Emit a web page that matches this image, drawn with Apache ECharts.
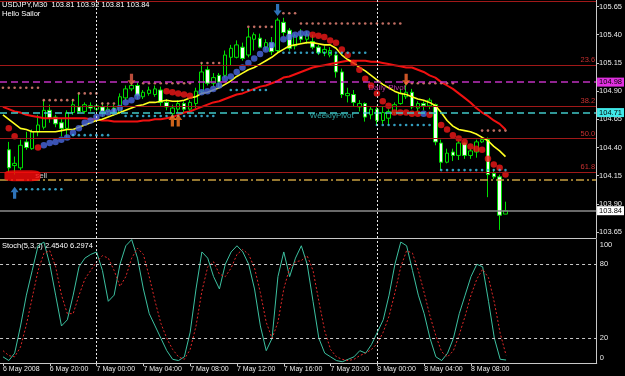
<!DOCTYPE html>
<html><head><meta charset="utf-8">
<script src="https://cdn.jsdelivr.net/npm/echarts@6/dist/echarts.min.js"></script>
<style>html,body{margin:0;padding:0;background:#000;}#c{width:625px;height:376px;}</style>
</head><body><div id="c"></div>
<script>
// ---------------- data ----------------
const symbolName = 'USDJPY,M30';
const tickIdx  = [0, 8, 16, 24, 32, 40, 48, 56, 64, 72, 80];
const tickText = ['6 May 2008','6 May 20:00','7 May 00:00','7 May 04:00','7 May 08:00','7 May 12:00','7 May 16:00','7 May 20:00','8 May 00:00','8 May 04:00','8 May 08:00'];
const priceTicks = [103.65,103.90,104.15,104.40,104.65,104.90,105.15,105.40,105.65];
const stochTicks = [0,20,80,100];
const daySeparators = [16, 64];

const open = [
null,104.38,104.24,104.22,104.45,104.39,104.54,104.58,104.73,104.67,
104.62,104.57,104.71,104.76,104.72,104.77,104.74,104.76,104.72,104.75,
104.71,104.84,104.92,104.95,104.85,104.88,104.87,104.91,104.80,104.70,
104.74,104.79,104.74,104.79,104.90,105.09,104.97,105.04,105.04,105.20,
105.20,105.29,105.22,105.36,105.37,105.29,105.33,105.26,105.51,105.44,
105.30,105.39,105.36,105.34,105.29,105.24,105.22,105.22,105.07,104.86,
104.87,104.76,104.79,104.69,104.74,104.64,104.66,104.71,104.79,104.85,
104.89,104.75,104.79,104.77,104.78,104.44,104.27,104.36,104.33,104.44,
104.33,104.36,104.45,104.47,104.17,104.14,103.81];
const close = [
null,104.22,104.26,104.42,104.40,104.54,104.60,104.73,104.66,104.61,
104.57,104.71,104.78,104.72,104.78,104.75,104.77,104.72,104.74,104.70,
104.85,104.92,104.95,104.86,104.89,104.91,104.92,104.80,104.76,104.75,
104.79,104.74,104.80,104.90,105.07,104.97,105.02,104.98,105.22,105.28,
105.31,105.19,105.38,105.40,105.29,105.33,105.25,105.53,105.42,105.28,
105.39,105.36,105.40,105.29,105.24,105.27,105.26,105.07,104.87,104.88,
104.80,104.79,104.67,104.74,104.64,104.71,104.72,104.78,104.88,104.89,
104.76,104.79,104.77,104.82,104.45,104.27,104.35,104.33,104.44,104.33,
104.37,104.45,104.47,104.16,104.14,103.80,103.84];
const high = [
null,104.45,104.32,104.47,104.54,104.56,104.69,104.82,104.78,104.69,
104.66,104.73,104.83,104.88,104.80,104.80,104.79,104.80,104.78,104.78,
104.88,104.95,104.98,104.98,104.91,104.94,104.95,104.94,104.83,104.78,
104.82,104.81,104.82,104.93,105.15,105.12,105.06,105.06,105.26,105.31,
105.35,105.33,105.46,105.42,105.41,105.36,105.38,105.55,105.55,105.46,
105.41,105.45,105.43,105.40,105.31,105.30,105.29,105.25,105.10,104.93,
104.91,104.82,104.80,104.76,104.77,104.76,104.74,104.80,104.92,104.96,
104.92,104.81,104.81,104.84,104.79,104.47,104.39,104.39,104.46,104.45,
104.39,104.47,104.50,104.49,104.21,104.16,103.92];
const low = [
null,104.18,104.16,104.20,104.38,104.38,104.50,104.56,104.62,104.58,
104.50,104.49,104.69,104.70,104.70,104.72,104.72,104.67,104.70,104.68,
104.70,104.82,104.90,104.83,104.83,104.86,104.85,104.77,104.73,104.66,
104.71,104.70,104.72,104.75,104.87,104.95,104.94,104.92,105.02,105.13,
105.19,105.17,105.20,105.26,105.28,105.26,105.22,105.24,105.39,105.26,
105.27,105.33,105.32,105.27,105.22,105.21,105.20,105.02,104.84,104.80,
104.76,104.72,104.63,104.65,104.60,104.61,104.60,104.69,104.78,104.83,
104.74,104.72,104.73,104.74,104.42,104.20,104.26,104.28,104.29,104.30,
104.30,104.31,104.44,103.96,104.12,103.67,103.81];

const maFast = [
104.69,104.65,104.61,104.57,104.56,104.54,104.54,104.54,104.54,104.54,
104.55,104.56,104.56,104.58,104.60,104.62,104.64,104.65,104.67,104.69,
104.71,104.73,104.75,104.77,104.78,104.80,104.80,104.81,104.82,104.81,
104.81,104.82,104.84,104.85,104.88,104.89,104.91,104.93,104.96,104.99,
105.03,105.06,105.09,105.11,105.14,105.17,105.20,105.24,105.27,105.30,
105.31,105.32,105.33,105.33,105.32,105.31,105.31,105.28,105.22,105.18,
105.15,105.11,105.08,105.04,105.00,104.96,104.93,104.90,104.88,104.87,
104.85,104.83,104.82,104.80,104.77,104.71,104.64,104.59,104.56,104.55,
104.54,104.52,104.49,104.46,104.41,104.37,104.32];
const maSlow = [
104.76,104.74,104.72,104.71,104.69,104.68,104.67,104.66,104.66,104.66,
104.66,104.66,104.66,104.66,104.66,104.65,104.65,104.64,104.64,104.63,
104.63,104.63,104.63,104.63,104.64,104.64,104.65,104.65,104.66,104.67,
104.69,104.71,104.72,104.74,104.76,104.78,104.80,104.81,104.83,104.85,
104.87,104.88,104.90,104.92,104.94,104.95,104.97,104.99,105.02,105.03,
105.05,105.07,105.09,105.11,105.12,105.13,105.14,105.15,105.16,105.17,
105.17,105.17,105.17,105.16,105.16,105.15,105.14,105.13,105.12,105.11,
105.11,105.09,105.07,105.04,105.02,104.98,104.95,104.92,104.88,104.84,
104.80,104.75,104.71,104.68,104.64,104.61,104.56];

const sarUpIdx = [7,8,9,10,11,12,13,14,15,16,17,18,19,20,21,22,23,34,35,36,37,38,39,40,41,42,43,44,45,46,48,49,50,51,52,72];
const sarUpVal = [104.42,104.44,104.45,104.47,104.49,104.53,104.57,104.62,104.64,104.67,104.70,104.71,104.72,104.75,104.80,104.82,104.85,104.89,104.90,104.92,104.95,105.01,105.03,105.07,105.11,105.15,105.19,105.23,105.27,105.31,105.36,105.38,105.40,105.41,105.41,104.70];
const sarDnIdx = [1,2,6,28,29,30,31,32,53,54,55,56,57,58,59,60,61,62,63,64,65,66,67,68,69,70,71,73,75,76,77,78,79,80,81,82,83,84,85,86];
const sarDnVal = [104.57,104.50,104.40,104.90,104.89,104.88,104.87,104.86,105.40,105.39,105.38,105.35,105.33,105.27,105.22,105.15,105.09,105.01,104.95,104.88,104.81,104.77,104.71,104.71,104.71,104.70,104.70,104.69,104.60,104.56,104.51,104.48,104.45,104.41,104.39,104.38,104.30,104.25,104.22,104.16];

// fractal level runs: [firstBar, lastBar, price]
const resistRuns = [[0,6,104.93],[7,12,104.82],[13,16,104.88],[17,19,104.79],[24,32,104.97],[34,37,105.15],[42,46,105.47],[48,50,105.59],[51,68,105.50],[69,77,104.97],[82,86,104.55]];
const supportRuns = [[3,10,104.03],[12,18,104.51],[21,36,104.68],[39,45,104.91],[48,62,105.24],[64,73,104.60],[75,86,104.20]];

const fibNames  = ['', '23.6', '38.2', '50.0', '61.8'];
const fibPrices = [105.70, 105.13, 104.77, 104.48, 104.18];
const dailyPivot = 104.98, weeklyPivot = 104.71, lastPrice = 103.84, pendingLevel = 104.11;

const arrowIdx   = [2, 22, 29, 30, 47, 69];
const arrowPrice = [104.00, 105.00, 104.64, 104.64, 105.62, 105.00];
const arrowDir   = ['up','down','up','up','down','down'];
const arrowColor = ['#3a8ee6','#e8604a','#ff7a20','#ff7a20','#3a8ee6','#ff6a30'];

const noteText  = ['Daily Pivot', 'WeeklyPivot', 'sell'];
const noteIdx   = [62, 52, 5];
const notePrice = [104.93, 104.68, 104.15];
const noteColor = ['#e040c0', '#40d0d0', '#ffffff'];
const blobIdx = 3, blobPrice = 104.15;

const stochK = [
5,2,8,30,55,75,95,98,80,55,
30,35,55,78,85,88,90,75,50,55,
80,95,100,85,60,40,30,20,10,3,
2,5,25,60,90,85,70,60,80,90,
95,90,80,60,30,10,20,70,90,70,
85,95,80,50,20,8,5,2,1,3,
5,10,8,15,25,35,55,80,98,95,
75,55,40,20,5,2,8,20,40,55,
70,80,78,50,20,3,2.454];
const stochD = [
10,6,5,13,31,53,75,89,91,78,
55,40,40,55,68,75,82,87,85,75,
62,70,85,93,88,70,50,32,20,11,
5,3,11,30,58,78,82,72,70,77,
88,92,88,77,57,33,20,33,60,77,
82,83,87,75,50,26,11,5,3,2,
3,6,8,11,16,25,38,57,78,91,
89,75,57,38,22,9,5,10,23,38,
55,68,76,69,49,24,6.2974];

// ---------------- chart ----------------
const N_SLOTS = 102;
const cats = Array.from({length: N_SLOTS}, (_, i) => String(i));
const GL = -3.02, GW = 599.76;
const FONT = '"Liberation Sans", Arial, sans-serif';

const candleData = open.map((o, i) => o == null ? ['-','-','-','-'] : [o, close[i], low[i], high[i]]);
const runsToPoints = runs => { const out = []; runs.forEach(([a, b, p]) => { for (let i = a; i <= b; i++) out.push([i, p]); }); return out; };
const last = open.length - 1;

const fibLines = fibPrices.map((p, k) => ({
  yAxis: p,
  lineStyle: {color: '#a01818', width: 1, type: 'solid'},
  label: {show: !!fibNames[k], position: 'insideEndTop', formatter: fibNames[k], color: '#c83030', fontSize: 7.5, distance: 1, fontFamily: FONT}
}));
const boxLabel = (txt, bg) => ({show: true, position: 'end', formatter: txt, color: '#000', backgroundColor: bg, padding: [1, 2, 0, 2], fontSize: 7.5, distance: 1, fontFamily: FONT});
const levelLines = [
  {yAxis: dailyPivot, lineStyle: {color: '#c030c0', width: 1.5, type: [7, 4]}, label: boxLabel(dailyPivot.toFixed(2), '#e030e0')},
  {yAxis: weeklyPivot, lineStyle: {color: '#40c8c8', width: 1.5, type: [7, 4]}, label: boxLabel(weeklyPivot.toFixed(2), '#40e8e8')},
  {yAxis: lastPrice, lineStyle: {color: '#8c8c8c', width: 1.5, type: 'solid'}, label: boxLabel(lastPrice.toFixed(2), '#ffffff')},
  {yAxis: pendingLevel, lineStyle: {color: '#c8a040', width: 1.5, type: [8, 3, 2, 3]}, label: {show: false}}
];
const sepLines = daySeparators.map(i => ({xAxis: i, lineStyle: {color: '#e8e8e8', width: 1, type: [2, 2]}, label: {show: false}}));

const upPath = 'path://M5,0 L10,6 L7,6 L7,13 L3,13 L3,6 L0,6 Z';

const option = {
  backgroundColor: '#000',
  animation: false,
  textStyle: {fontFamily: FONT},
  grid: [
    {left: GL, width: GW, top: 0, height: 238},
    {left: GL, width: GW, top: 239.6, height: 123.4}
  ],
  xAxis: [
    {type: 'category', gridIndex: 0, data: cats, axisLine: {show: true, lineStyle: {color: '#c8c8c8', width: 1}}, axisTick: {show: false}, axisLabel: {show: false}, splitLine: {show: false}},
    {type: 'category', gridIndex: 1, data: cats,
     axisLine: {show: true, lineStyle: {color: '#c8c8c8', width: 1}},
     axisTick: {show: true, alignWithLabel: true, interval: i => tickIdx.includes(i), length: 3, lineStyle: {color: '#c8c8c8'}},
     axisLabel: {show: true, interval: i => tickIdx.includes(i), formatter: (v) => tickText[tickIdx.indexOf(Number(v))], align: 'left', color: '#e8e8e8', fontSize: 7, margin: 3, fontFamily: FONT},
     splitLine: {show: false}}
  ],
  yAxis: [
    {type: 'value', gridIndex: 0, position: 'right', min: 103.598, max: 105.708,
     axisLine: {show: true, lineStyle: {color: '#c8c8c8', width: 1}},
     axisTick: {show: true, customValues: priceTicks, length: 3, lineStyle: {color: '#c8c8c8'}},
     axisLabel: {customValues: priceTicks, formatter: v => v.toFixed(2), color: '#e8e8e8', fontSize: 7.5, margin: 3, fontFamily: FONT},
     splitLine: {show: false}},
    {type: 'value', gridIndex: 1, position: 'right', min: 0, max: 100,
     axisLine: {show: true, lineStyle: {color: '#c8c8c8', width: 1}},
     axisTick: {show: false},
     axisLabel: {customValues: stochTicks, color: '#e8e8e8', fontSize: 7.5, margin: 3, fontFamily: FONT,
       formatter: v => v === 100 ? '{t|100}' : v === 0 ? '{b|0}' : String(v),
       rich: {t: {padding: [10, 0, 0, 0], color: '#e8e8e8', fontSize: 7.5, fontFamily: FONT}, b: {padding: [0, 0, 10, 0], color: '#e8e8e8', fontSize: 7.5, fontFamily: FONT}}},
     splitLine: {show: false}}
  ],
  series: [
    {type: 'candlestick', xAxisIndex: 0, yAxisIndex: 0, data: candleData, barWidth: 4, z: 2,
     itemStyle: {color: '#000000', color0: '#f4fff4', borderColor: '#00e000', borderColor0: '#00e000', borderWidth: 1},
     markLine: {silent: true, symbol: ['none', 'none'], animation: false, data: [...fibLines, ...levelLines, ...sepLines]}},
    {type: 'line', name: 'maSlow', data: maSlow, showSymbol: false, symbol: 'none', z: 3, lineStyle: {color: '#f01010', width: 2}},
    {type: 'line', name: 'maFast', data: maFast, showSymbol: false, symbol: 'none', z: 3, lineStyle: {color: '#ffff20', width: 1.6}},
    {type: 'scatter', data: sarUpIdx.map((i, k) => [i, sarUpVal[k]]), symbolSize: 6.5, z: 4, itemStyle: {color: '#4a68e0'}},
    {type: 'scatter', data: sarDnIdx.map((i, k) => [i, sarDnVal[k]]), symbolSize: 6.5, z: 4, itemStyle: {color: '#f01818'}},
    {type: 'scatter', data: runsToPoints(resistRuns), symbolSize: 2.6, z: 4, itemStyle: {color: '#f0887a'}},
    {type: 'scatter', data: runsToPoints(supportRuns), symbolSize: 2.6, z: 4, itemStyle: {color: '#40c4ee'}},
    {type: 'scatter', symbol: upPath, symbolSize: [8, 12], z: 5,
     data: arrowIdx.map((i, k) => ({value: [i, arrowPrice[k]], symbolRotate: arrowDir[k] === 'up' ? 0 : 180, itemStyle: {color: arrowColor[k]}}))},
    {type: 'scatter', symbolSize: 0, z: 6,
     data: noteText.map((t, k) => ({value: [noteIdx[k], notePrice[k]], label: {show: true, position: 'right', distance: 3, formatter: t, color: noteColor[k], fontSize: 8, fontFamily: FONT}}))},
    {type: 'scatter', symbol: 'roundRect', symbolSize: [36, 11], symbolOffset: [2, 0], z: 7,
     data: [[blobIdx, blobPrice]], itemStyle: {color: '#ff0a0a'}},
    {type: 'line', xAxisIndex: 1, yAxisIndex: 1, data: stochK, showSymbol: false, symbol: 'none', z: 3,
     lineStyle: {color: '#3cc0a0', width: 1},
     markLine: {silent: true, symbol: ['none', 'none'], animation: false, label: {show: false},
       data: [{yAxis: 80, lineStyle: {color: '#c8c8c8', width: 1, type: [3, 3]}}, {yAxis: 20, lineStyle: {color: '#c8c8c8', width: 1, type: [3, 3]}},
              ...daySeparators.map(i => ({xAxis: i, lineStyle: {color: '#e8e8e8', width: 1, type: [2, 2]}}))]}},
    {type: 'line', xAxisIndex: 1, yAxisIndex: 1, data: stochD, showSymbol: false, symbol: 'none', z: 3,
     lineStyle: {color: '#e02828', width: 1, type: [2, 2]}}
  ],
  graphic: [
    {type: 'text', left: 2, top: 1, style: {text: `${symbolName}  ${open[last].toFixed(2)} ${high[last].toFixed(2)} ${low[last].toFixed(2)} ${close[last].toFixed(2)}`, fill: '#ffffff', font: '7.5px ' + FONT}},
    {type: 'text', left: 2, top: 10, style: {text: 'Hello Sailor', fill: '#ffffff', font: '7.5px ' + FONT}},
    {type: 'text', left: 2, top: 242, style: {text: `Stoch(5,3,3) ${stochK[last].toFixed(4)} ${stochD[last].toFixed(4)}`, fill: '#ffffff', font: '7.5px ' + FONT}}
  ]
};
const chart = echarts.init(document.getElementById('c'));
chart.setOption(option);
</script>
</body></html>
